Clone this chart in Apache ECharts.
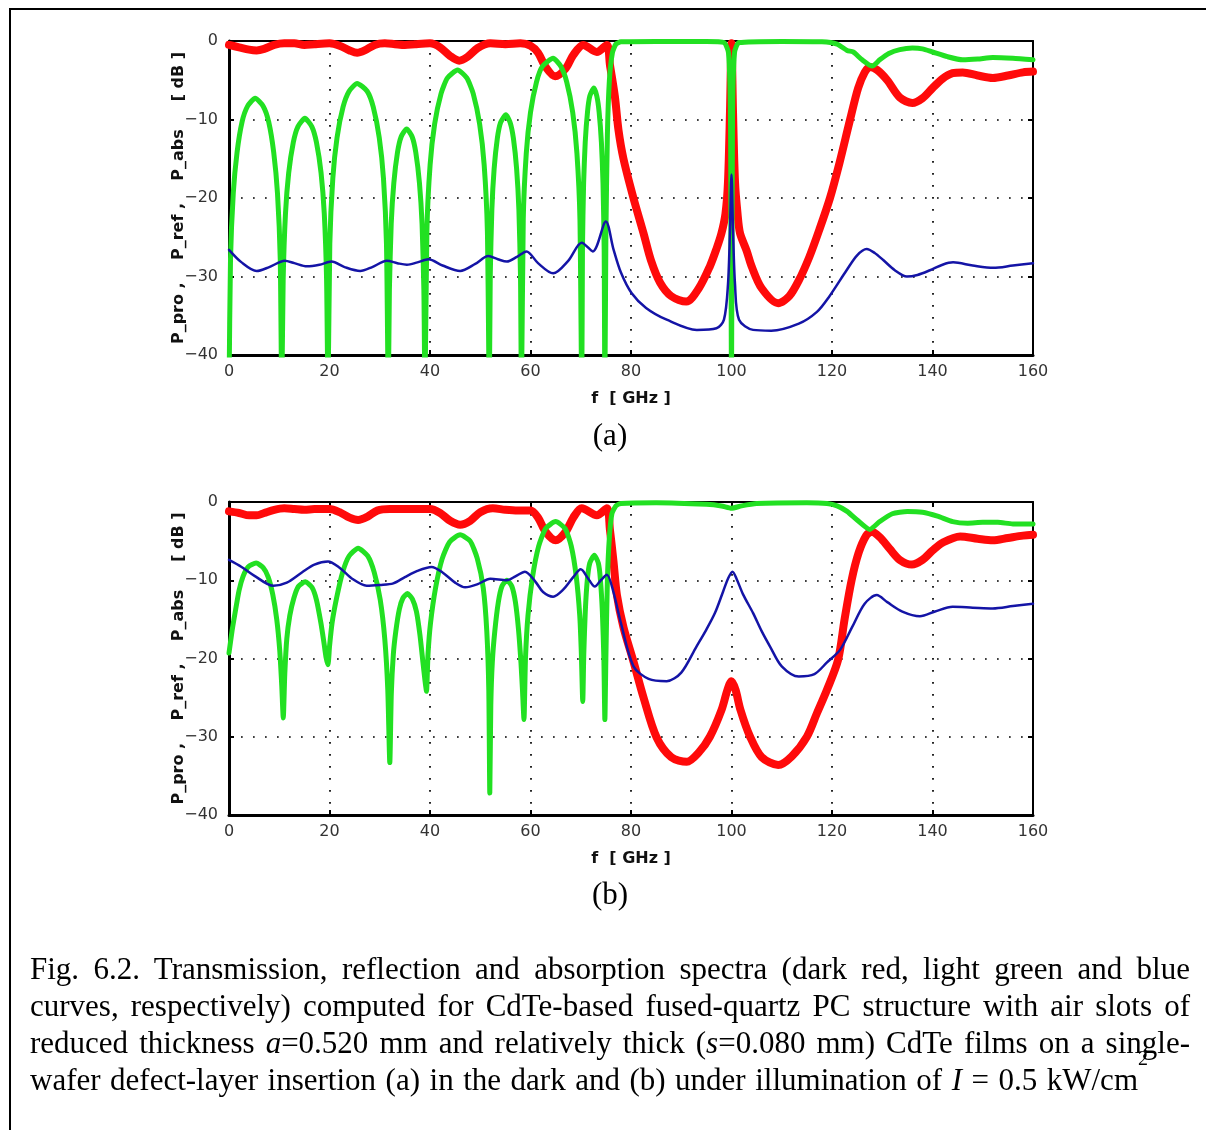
<!DOCTYPE html>
<html>
<head>
<meta charset="utf-8">
<script src="https://cdn.jsdelivr.net/npm/echarts/dist/echarts.min.js"></script>
<style>
html,body{margin:0;padding:0;background:#fff;width:1206px;height:1130px;overflow:hidden;}
#frame{position:absolute;left:9px;top:8px;width:1220px;height:1150px;border:2px solid #000;box-sizing:border-box;}
#chart{position:absolute;left:0;top:0;width:1206px;height:1130px;}
.cap{position:absolute;left:30px;display:inline-block;white-space:nowrap;font-family:"Liberation Serif","Times New Roman",serif;font-size:31px;line-height:37px;height:37px;color:#000;}
.cap sup{font-size:20px;line-height:0;vertical-align:0;position:relative;top:-25px;}
</style>
</head>
<body>
<div id="frame"></div>
<div id="chart"></div>
<div class="cap" data-w="1160" style="top:950px;">Fig. 6.2. Transmission, reflection and absorption spectra (dark red, light green and blue</div>
<div class="cap" data-w="1160" style="top:987px;">curves, respectively) computed for CdTe-based fused-quartz PC structure with air slots of</div>
<div class="cap" data-w="1160" style="top:1024px;">reduced thickness <i>a</i>=0.520 mm and relatively thick (<i>s</i>=0.080 mm) CdTe films on a single-</div>
<div class="cap" data-w="1118" style="top:1061px;">wafer defect-layer insertion (a) in the dark and (b) under illumination of <i>I</i> = 0.5 kW/cm<sup>2</sup></div>
<script>
// x ticks (GHz) and y ticks (dB)
const xTicks = [0, 20, 40, 60, 80, 100, 120, 140, 160];
const yTicks = [-40, -30, -20, -10, 0];

// ---------- panel (a): in the dark ----------
const topRed = [[0,-0.5],[2,-0.8],[4,-1.1],[5.5,-1.2],[7,-1.0],[9,-0.5],[11,-0.3],[13,-0.3],[15,-0.5],[17,-0.4],[20,-0.3],[22,-0.6],[24,-1.2],[25.5,-1.5],[27,-1.2],[29,-0.5],[31,-0.3],[33,-0.4],[35,-0.5],[37,-0.4],[40,-0.3],[42,-0.8],[44,-1.9],[45.8,-2.5],[47.5,-2.0],[49.5,-0.9],[52,-0.3],[55,-0.4],[58,-0.3],[60,-0.6],[61.5,-1.5],[63,-3.3],[64.9,-4.5],[67,-3.5],[68.5,-1.8],[70.5,-0.5],[73.2,-1.4],[75.2,-0.5],[75.8,-3],[76.8,-7.1],[77.5,-11.3],[78.5,-15],[80.4,-19.8],[82.5,-24.5],[84,-28],[85.8,-30.8],[88,-32.5],[91,-33.2],[93.5,-31.5],[95.7,-28.7],[97,-26.5],[98,-24.5],[98.8,-22],[99.3,-18],[99.7,-9],[100,-0.3],[100.3,-9],[100.7,-18],[101.2,-22],[101.7,-24.5],[103,-26.7],[104,-28.7],[106,-31.5],[109.3,-33.4],[111.5,-32.5],[113.4,-30.5],[115.5,-27.5],[117.5,-24],[119.6,-20],[121.5,-15.5],[123.6,-10],[125.2,-6],[126.5,-4.0],[127.5,-3.3],[129,-3.7],[131,-5],[133.5,-7.2],[136,-7.9],[138,-7.3],[140,-6],[142,-4.8],[144,-4.1],[146,-4.0],[149,-4.4],[152,-4.7],[155,-4.4],[158,-4.0],[160,-3.9]];

const topGreen = [[0,-45],[0.3,-27.8],[0.85,-19.4],[1.6,-14.2],[2.6,-10.3],[3.7,-8.3],[5.2,-7.3],[6.8,-8.3],[7.9,-10.3],[8.9,-14.2],[9.65,-19.4],[10.2,-27.8],[10.5,-45],
[10.78,-30.4],[11.24,-22.0],[11.88,-16.8],[12.8,-12.9],[13.72,-10.9],[15.1,-9.85],[16.48,-10.9],[17.4,-12.9],[18.32,-16.8],[18.96,-22.0],[19.42,-30.4],[19.7,-45],
[20.06,-25.9],[20.66,-17.5],[21.5,-12.3],[22.7,-8.4],[23.9,-6.4],[25.5,-5.4],[27.5,-6.4],[28.7,-8.4],[29.9,-12.3],[30.74,-17.5],[31.34,-25.9],[31.7,-45],
[31.92,-31.7],[32.28,-23.3],[32.8,-18.1],[33.53,-14.2],[34.26,-12.2],[35.35,-11.2],[36.44,-12.2],[37.17,-14.2],[37.9,-18.1],[38.42,-23.3],[38.78,-31.7],[39.0,-45],
[39.38,-24.2],[40.02,-15.8],[40.92,-10.6],[42.2,-6.7],[43.48,-4.7],[45.5,-3.7],[47.32,-4.7],[48.6,-6.7],[49.88,-10.6],[50.78,-15.8],[51.42,-24.2],[51.8,-45],
[51.99,-29.9],[52.31,-21.5],[52.76,-16.3],[53.4,-12.4],[54.04,-10.4],[55.1,-9.4],[55.96,-10.4],[56.6,-12.4],[57.24,-16.3],[57.69,-21.5],[58.01,-29.9],[58.2,-45],
[58.56,-22.7],[59.16,-14.3],[60.0,-9.1],[61.2,-5.2],[62.4,-3.2],[64.5,-2.2],[66.0,-3.2],[67.2,-5.2],[68.4,-9.1],[69.24,-14.3],[69.84,-22.7],[70.2,-45],
[70.34,-26.5],[70.57,-18.1],[70.89,-12.9],[71.35,-9.0],[71.81,-7.0],[72.6,-6.0],[73.19,-7.0],[73.65,-9.0],[74.11,-12.9],[74.43,-18.1],[74.66,-26.5],[74.8,-45],
[75.0,-25],[75.3,-12],[75.7,-5],[76.3,-1.5],[77,-0.4],[78,-0.1],[85,-0.05],[95,-0.05],[98.5,-0.2],[99.4,-1.5],[99.8,-10],[100,-45],[100.2,-10],[100.6,-1.5],[101.5,-0.2],[110,-0.05],[118,-0.1],[121,-0.4],[123,-1.2],[124.2,-1.4],[126,-2.4],[128,-3.2],[129.5,-2.4],[131.3,-1.6],[133.5,-1.1],[136,-0.9],[138,-1.0],[140,-1.4],[143,-2.0],[146,-2.4],[149,-2.3],[152,-2.1],[156,-2.2],[160,-2.4]];

const topBlue = [[0,-26.6],[2.5,-28.2],[5.5,-29.3],[8,-28.8],[11.1,-28.0],[13,-28.3],[15.5,-28.7],[18,-28.5],[20.4,-28.1],[23,-28.8],[26.1,-29.3],[28.5,-28.8],[31.4,-28.0],[33.5,-28.3],[35.4,-28.5],[37.5,-28.2],[39.7,-27.8],[42.5,-28.6],[46,-29.3],[49,-28.4],[51.6,-27.4],[53.5,-27.8],[55.3,-28.1],[57.3,-27.5],[59.2,-26.8],[61.5,-28.3],[64.5,-29.6],[67.5,-28],[70.2,-25.7],[72.4,-26.8],[75,-23.0],[76.5,-26.5],[78,-29.5],[80.1,-32.1],[83,-34],[87.1,-35.5],[93.1,-36.8],[97,-36.6],[98.5,-35.5],[99.3,-31],[99.7,-24],[100,-17],[100.3,-24],[100.7,-31],[101.5,-35.5],[104.3,-36.8],[107.9,-36.9],[113.4,-36.0],[117,-34.5],[119.4,-32.6],[122.9,-29.2],[125,-27.3],[126.9,-26.5],[128.5,-27.0],[130.2,-27.9],[132.5,-29.2],[134.9,-30.0],[137,-29.8],[139.5,-29.2],[142,-28.5],[144.1,-28.2],[148,-28.6],[152.1,-28.9],[156,-28.6],[160,-28.3]];

// ---------- panel (b): under illumination ----------
const botRed = [[0,-1.2],[2,-1.4],[4,-1.7],[5.5,-1.7],[7,-1.4],[9,-1.0],[11,-0.8],[13,-0.9],[15,-1.0],[17,-0.9],[20,-0.9],[22,-1.3],[24,-2.0],[25.7,-2.3],[27.5,-1.9],[29.5,-1.1],[32,-0.9],[35,-0.9],[38,-0.9],[40,-0.9],[42,-1.4],[44,-2.4],[46,-2.9],[48,-2.4],[50,-1.3],[52.5,-0.8],[55,-1.0],[57.5,-1.1],[60,-1.1],[61.5,-2],[63,-3.8],[65,-4.9],[67,-3.8],[68.5,-2],[70.2,-0.8],[73.2,-1.7],[75.2,-0.8],[75.8,-3.5],[76.5,-7.5],[77.2,-11.9],[78.5,-16],[80.5,-20.4],[82.5,-25],[85.1,-30.1],[88,-32.6],[91.1,-33.2],[93.5,-32],[95.7,-30],[98,-26.6],[99.2,-24],[100,-22.9],[100.8,-24],[101.8,-26.6],[103.7,-30],[106,-32.6],[109.3,-33.6],[112,-32.5],[115,-30],[117,-27],[119,-24],[121.2,-20.2],[122.5,-15],[123.9,-10],[125.3,-6.5],[126.8,-4.3],[127.9,-3.8],[129.5,-4.5],[131.5,-6],[133.5,-7.4],[135.9,-8.0],[138,-7.4],[140,-6.2],[142,-5.2],[145.5,-4.4],[149,-4.7],[152,-4.9],[155,-4.6],[158,-4.3],[160,-4.2]];

const botGreen = [[0,-19.3],[0.6,-16.5],[1.2,-14.2],[2.0,-11.3],[2.8,-9.5],[3.8,-8.3],[5.4,-7.8],[6.8,-8.4],[7.8,-9.6],[8.7,-11.8],[9.5,-15.0],[10.1,-19.0],[10.5,-23.5],[10.8,-27.6],
[11.1,-22],[11.5,-17.5],[12.1,-14.5],[12.9,-12.3],[13.8,-10.8],[15.2,-10.2],[16.5,-10.9],[17.4,-12.5],[18.3,-15.5],[18.9,-18.0],[19.3,-19.8],[19.7,-20.8],
[20.0,-18.5],[20.5,-15.5],[21.4,-12.3],[22.6,-9.0],[23.9,-6.9],[25.7,-5.9],[27.6,-6.9],[28.9,-9.0],[30.1,-12.5],[31.0,-17.5],[31.6,-24],[32.0,-33.3],
[32.3,-24.5],[32.7,-19.5],[33.2,-16.5],[33.9,-13.7],[34.6,-12.3],[35.5,-11.7],[36.5,-12.4],[37.3,-14.0],[38.0,-17.0],[38.6,-20.5],[39.0,-22.8],[39.3,-24.2],
[39.6,-19.5],[40.1,-15.5],[41.1,-11.0],[42.4,-7.3],[43.9,-5.1],[46.0,-4.2],[48.0,-5.0],[49.4,-7.2],[50.6,-11.0],[51.3,-16.5],[51.7,-24],[51.9,-37.2],
[52.1,-26],[52.4,-20.5],[52.9,-16.5],[53.6,-12.8],[54.3,-10.8],[55.3,-10.0],[56.3,-10.8],[57.0,-12.8],[57.6,-16.2],[58.1,-20.5],[58.4,-24],[58.7,-27.8],
[59.0,-20],[59.5,-14.5],[60.4,-9.6],[61.6,-5.7],[63.0,-3.4],[65.0,-2.5],[66.9,-3.4],[68.1,-5.6],[69.1,-9.5],[69.8,-14.5],[70.1,-19],[70.4,-25.5],
[70.6,-19.5],[70.9,-14.0],[71.3,-10.0],[71.8,-7.8],[72.7,-6.8],[73.5,-7.8],[73.9,-9.8],[74.3,-14],[74.6,-20],[74.8,-27.8],
[75.0,-20],[75.3,-10],[75.7,-4.5],[76.2,-1.5],[77,-0.5],[78,-0.2],[85,-0.1],[95,-0.3],[98,-0.5],[100,-0.8],[102,-0.5],[105,-0.2],[115,-0.1],[119,-0.2],[121,-0.5],[123,-1.2],[125,-2.3],[127.5,-3.5],[129.5,-2.5],[132,-1.5],[135,-1.2],[138,-1.3],[141,-1.8],[144,-2.5],[147,-2.7],[150,-2.6],[153,-2.6],[156,-2.8],[160,-2.8]];

const botBlue = [[0,-7.4],[2.5,-8.3],[5,-9.4],[8.8,-10.7],[11.5,-10.3],[14.5,-9.0],[17,-8.0],[19.7,-7.6],[22,-8.4],[24.5,-9.8],[27.4,-10.7],[30,-10.6],[32.7,-10.4],[35,-9.6],[37.5,-8.8],[40.3,-8.3],[42.5,-9.0],[45,-10.3],[47,-10.9],[49.5,-10.5],[52,-9.8],[55.3,-10.0],[57,-9.5],[58.9,-8.9],[61,-10.2],[62.5,-11.5],[64.5,-12.1],[66.5,-11.2],[68.5,-9.6],[70,-8.6],[71.5,-9.8],[72.8,-10.8],[74,-10.0],[75.2,-9.3],[76.5,-11.5],[78,-15.5],[80.5,-21],[83.5,-22.6],[87.1,-22.9],[90,-21.8],[93,-18.5],[95,-16.3],[96.7,-14.2],[98.3,-11.5],[99.3,-9.8],[100.2,-8.9],[101,-9.8],[102.3,-11.8],[104.3,-14.2],[106,-16.5],[107.7,-18.5],[110,-21],[113.4,-22.3],[116.5,-22],[119,-20.5],[121.6,-18.9],[124,-16],[126.5,-13],[128.9,-11.9],[131,-12.8],[134,-14],[137.5,-14.6],[140.5,-14.0],[144,-13.4],[148,-13.5],[152,-13.6],[156,-13.3],[160,-13.0]];

const xName = 'f  [ GHz ]';
const yName = 'P_pro ,    P_ref ,    P_abs     [ dB ]';
const panelLabels = ['(a)', '(b)'];

// justify caption lines to their measured widths
document.querySelectorAll('.cap').forEach(el => {
  const target = +el.dataset.w;
  const w = el.getBoundingClientRect().width;
  const spaces = (el.textContent.match(/ /g) || []).length;
  if (target && spaces) el.style.wordSpacing = ((target - w) / spaces) + 'px';
});

const chart = echarts.init(document.getElementById('chart'), null, {renderer: 'canvas'});

const minus = v => String(v).replace('-', '\u2212');
const grids = [
  {left: 229, top: 41, width: 804, height: 314},
  {left: 229, top: 502, width: 804, height: 313}
];
const dotted = {color: '#000', width: 1.7, type: [1.7, 10.3]};
const labelStyle = {color: '#333', fontSize: 16, fontFamily: 'DejaVu Sans'};
const nameStyle = {color: '#111', fontSize: 16, fontWeight: 'bold', fontFamily: 'DejaVu Sans'};

const xAxes = [], yAxes = [];
grids.forEach((g, i) => {
  xAxes.push({
    gridIndex: i, type: 'value', min: xTicks[0], max: xTicks[xTicks.length - 1], interval: 20,
    position: 'bottom',
    name: xName, nameLocation: 'middle', nameGap: 36, nameMoveOverlap: false, nameTextStyle: nameStyle,
    axisLine: {show: true, onZero: false, lineStyle: {color: '#000', width: 3}},
    axisTick: {show: true, inside: true, length: 5, lineStyle: {color: '#000', width: 2}},
    axisLabel: Object.assign({margin: 9}, labelStyle),
    splitLine: {show: true, lineStyle: dotted}
  });
  xAxes.push({
    gridIndex: i, type: 'value', min: 0, max: 160, interval: 20, position: 'top',
    axisLine: {show: true, onZero: false, lineStyle: {color: '#000', width: 2}},
    axisTick: {show: true, inside: true, length: 5, lineStyle: {color: '#000', width: 2}},
    axisLabel: {show: false}, splitLine: {show: false}
  });
  yAxes.push({
    gridIndex: i, type: 'value', min: yTicks[0], max: yTicks[yTicks.length - 1], interval: 10,
    position: 'left',
    name: yName, nameLocation: 'middle', nameGap: 42, nameMoveOverlap: false, nameTextStyle: nameStyle,
    axisLine: {show: true, onZero: false, lineStyle: {color: '#000', width: 3}},
    axisTick: {show: true, inside: true, length: 5, lineStyle: {color: '#000', width: 2}},
    axisLabel: Object.assign({margin: 11, formatter: minus}, labelStyle),
    splitLine: {show: true, lineStyle: dotted}
  });
  yAxes.push({
    gridIndex: i, type: 'value', min: -40, max: 0, interval: 10, position: 'right',
    axisLine: {show: true, onZero: false, lineStyle: {color: '#000', width: 2}},
    axisTick: {show: true, inside: true, length: 5, lineStyle: {color: '#000', width: 2}},
    axisLabel: {show: false}, splitLine: {show: false}
  });
});

function line(data, gi, color, width, z, smooth) {
  return {
    type: 'line', xAxisIndex: gi * 2, yAxisIndex: gi * 2, data: data,
    showSymbol: false, symbol: 'none', clip: true, z: z, smooth: smooth,
    lineStyle: {color: color, width: width, join: 'round', cap: 'round'},
    emphasis: {disabled: true}
  };
}
const RED = '#ff0a0a', GREEN = '#22e022', BLUE = '#1414a6';

chart.setOption({
  animation: false,
  backgroundColor: 'transparent',
  grid: grids,
  xAxis: xAxes,
  yAxis: yAxes,
  series: [
    line(topRed, 0, RED, 8, 2, 0.3), line(topGreen, 0, GREEN, 5, 3, 0.2), line(topBlue, 0, BLUE, 2.5, 4, 0.3),
    line(botRed, 1, RED, 8, 2, 0.3), line(botGreen, 1, GREEN, 5, 3, 0.2), line(botBlue, 1, BLUE, 2.5, 4, 0.3)
  ],
  graphic: [
    {type: 'text', x: 610, y: 437, style: {text: panelLabels[0], textAlign: 'center', textVerticalAlign: 'middle', font: '31px "Liberation Serif", serif', fill: '#000'}},
    {type: 'text', x: 610, y: 896, style: {text: panelLabels[1], textAlign: 'center', textVerticalAlign: 'middle', font: '31px "Liberation Serif", serif', fill: '#000'}}
  ]
});
</script>
</body>
</html>
